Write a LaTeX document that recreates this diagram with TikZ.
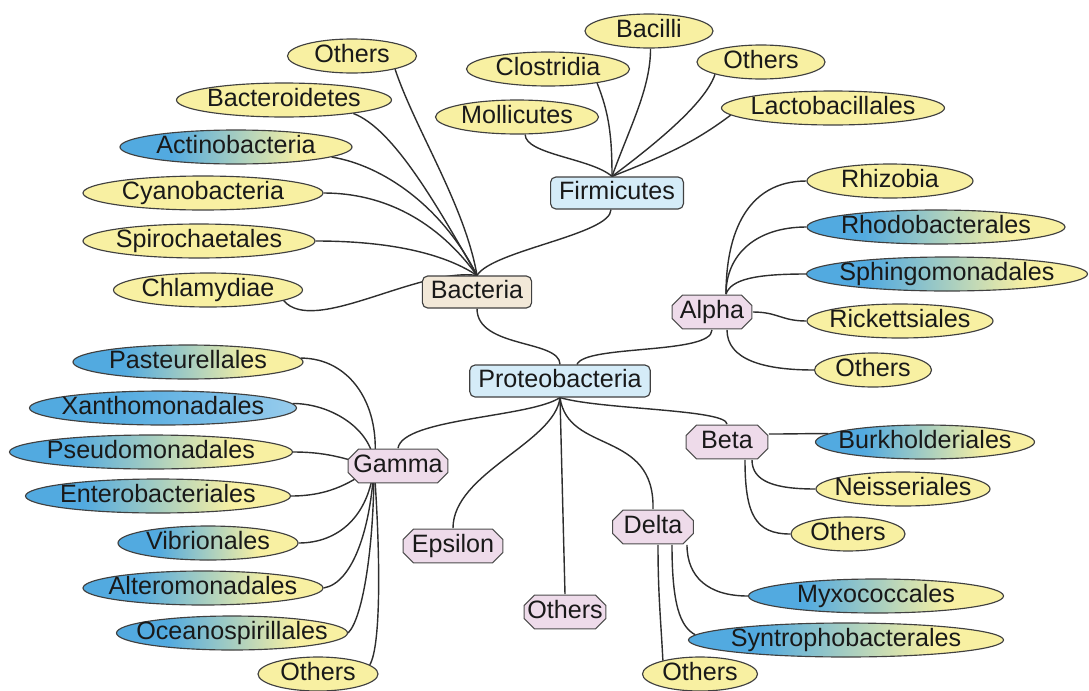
\documentclass[tikz,border=0pt]{standalone}
\usepackage{fontspec}
\setmainfont{Liberation Sans}
\usetikzlibrary{shapes.geometric,backgrounds}

\definecolor{leafyellow}{HTML}{F8F0A2}
\definecolor{leafblue}{HTML}{52AAE0}
\colorlet{leafpale}{leafblue!60!white}
\definecolor{boxtan}{HTML}{F2E8D8}
\definecolor{boxblue}{HTML}{D5ECF8}
\definecolor{octpink}{HTML}{EEDBEA}
\definecolor{inkline}{HTML}{2E2E2E}

\pgfdeclarehorizontalshading{leafshade}{100bp}{color(0bp)=(leafblue); color(36bp)=(leafblue); color(64bp)=(leafyellow); color(100bp)=(leafyellow)}
\pgfdeclarehorizontalshading{deepshade}{100bp}{color(0bp)=(leafblue); color(40bp)=(leafblue); color(75bp)=(leafpale); color(100bp)=(leafpale)}

\tikzset{
	txt/.style={font=\fontsize{14.3}{16}\selectfont, text=black!90, text height=0.72em, text depth=0pt},
	narrow/.style={execute at begin node={\hbox to 0pt\bgroup\hss}, execute at end node={\hss\egroup}},
	leaf/.style={txt, narrow, ellipse, draw=black!75, fill=leafyellow, line width=0.65pt, inner sep=0pt, minimum width=#1*0.02cm, minimum height=0.68cm},
	blueleaf/.style={leaf=#1, shade, shading=leafshade},
	deepleaf/.style={leaf=#1, shade, shading=deepshade},
	group/.style={txt, rectangle, rounded corners=3pt, draw=black!75, line width=0.65pt, inner xsep=0.17cm, inner ysep=0.1cm, minimum height=0.64cm},
	octo/.style={txt, narrow, rectangle, inner sep=0pt, minimum width=#1*0.02cm, minimum height=0.7cm,
		path picture={
			\draw[draw=black!70, fill=octpink, line width=0.65pt]
				([shift={(0.22cm,-0.33pt)}]path picture bounding box.north west) -- ([shift={(-0.22cm,-0.33pt)}]path picture bounding box.north east)
				-- ([shift={(-0.33pt,-0.22cm)}]path picture bounding box.north east) -- ([shift={(-0.33pt,0.22cm)}]path picture bounding box.south east)
				-- ([shift={(-0.22cm,0.33pt)}]path picture bounding box.south east) -- ([shift={(0.22cm,0.33pt)}]path picture bounding box.south west)
				-- ([shift={(0.33pt,0.22cm)}]path picture bounding box.south west) -- ([shift={(0.33pt,-0.22cm)}]path picture bounding box.north west)
				-- cycle;
		}},
	link/.style={draw=inkline, line width=0.8pt}
}

\begin{document}
\begin{tikzpicture}[x=0.02cm, y=-0.02cm]
	
	\useasboundingbox (0,0) rectangle (1089,690);
	
	% main groups
	\node[group, fill=boxtan] (bact) at (477,292) {Bacteria};
	\node[group, fill=boxblue] (firm) at (617,193) {Firmicutes};
	\node[group, fill=boxblue] (proteo) at (560,381) {Proteobacteria};
	
	\node[octo=81] (alpha) at (712,312) {Alpha};
	\node[octo=83] (beta) at (727,442) {Beta};
	\node[octo=101] (gamma) at (398,466) {Gamma};
	\node[octo=82] (delta) at (653,527) {Delta};
	\node[octo=101] (eps) at (453,546) {Epsilon};
	\node[octo=83] (othp) at (565,612) {Others};
	
	% bacteria
	\node[leaf=129] (othb) at (352,56) {Others};
	\node[leaf=215] (bactd) at (284,100) {Bacteroidetes};
	\node[blueleaf=232] (actino) at (236,147) {Actinobacteria};
	\node[leaf=240] (cyano) at (203,193) {Cyanobacteria};
	\node[leaf=232] (spiro) at (199,241) {Spirochaetales};
	\node[leaf=189] (chlamy) at (208,290) {Chlamydiae};
	
	% firmicutes
	\node[leaf=163] (molli) at (517,117) {Mollicutes};
	\node[leaf=163] (clostr) at (548,69) {Clostridia};
	\node[leaf=128] (bacilli) at (649,31) {Bacilli};
	\node[leaf=128] (othf) at (761,62) {Others};
	\node[leaf=223] (lacto) at (833,108) {Lactobacillales};
	
	% alpha
	\node[leaf=166] (rhizo) at (890,181) {Rhizobia};
	\node[blueleaf=258] (rhodo) at (936,227) {Rhodobacterales};
	\node[blueleaf=281] (sphingo) at (947,274) {Sphingomonadales};
	\node[leaf=186] (ricket) at (900,321) {Rickettsiales};
	\node[leaf=117] (otha) at (873,370) {Others};
	
	% beta
	\node[blueleaf=219] (burk) at (925,442) {Burkholderiales};
	\node[leaf=174] (neiss) at (903,489) {Neisseriales};
	\node[leaf=114] (othbe) at (848,534) {Others};
	
	% delta
	\node[blueleaf=255] (myxo) at (876,596) {Myxococcales};
	\node[blueleaf=315] (syntro) at (846,640) {Syntrophobacterales};
	\node[leaf=115] (othd) at (700,674) {Others};
	
	% gamma
	\node[blueleaf=230] (pasteur) at (188,362) {Pasteurellales};
	\node[deepleaf=267] (xantho) at (163,408) {Xanthomonadales};
	\node[blueleaf=283] (pseudo) at (151,452) {Pseudomonadales};
	\node[blueleaf=265] (entero) at (158,496) {Enterobacteriales};
	\node[blueleaf=180] (vibrio) at (208,543) {Vibrionales};
	\node[blueleaf=240] (altero) at (203,588) {Alteromonadales};
	\node[blueleaf=231] (oceano) at (232,633) {Oceanospirillales};
	\node[leaf=120] (othg) at (318,674) {Others};
	
	\coordinate (fhub) at ([xshift=-0.1cm]firm.north);
	\coordinate (ahub) at ([xshift=0.28cm]alpha.north);
	\coordinate (ghub) at ([xshift=-0.48cm]gamma.center);
	
	\begin{pgfonlayer}{background}
	\draw[link] (othb.-17) .. controls +(20,60) and +(-12,-70) .. (bact.north);
	\draw[link] (bactd.-11) .. controls +(40,15) and +(-40,-70) .. (bact.north);
	\draw[link] (actino.-6) .. controls +(50,8) and +(-35,-70) .. (bact.north);
	\draw[link] (cyano.east) .. controls +(60,0) and +(-40,-55) .. (bact.north);
	\draw[link] (spiro.east) .. controls +(80,0) and +(-30,-20) .. (bact.north);
	\draw[link] (chlamy.-8) .. controls +(30,35) and +(-60,-8) .. (bact.north);
	\draw[link] (bact.north) .. controls +(15,-25) and +(0,25) .. ([xshift=-0.12cm]firm.south);
	\draw[link] (bact.south) .. controls +(0,40) and +(0,-25) .. (proteo.north);
	
	\draw[link] (molli.-65) .. controls +(0,20) and +(-20,-18) .. (fhub);
	\draw[link] (clostr.-16) .. controls +(12,30) and +(0,-40) .. (fhub);
	\draw[link] (bacilli.-85) .. controls +(0,40) and +(18,-50) .. (fhub);
	\draw[link] (othf.-165) .. controls +(-10,30) and +(40,-30) .. (fhub);
	\draw[link] (lacto.-176) .. controls +(-40,30) and +(50,-20) .. (fhub);
	
	\draw[link] ([xshift=0.34cm]proteo.north) .. controls +(8,-20) and +(0,25) .. (alpha.south);
	\draw[link] (rhizo.west) .. controls +(-60,0) and +(0,-60) .. (ahub);
	\draw[link] (rhodo.west) .. controls +(-50,0) and +(0,-40) .. (ahub);
	\draw[link] (sphingo.west) .. controls +(-50,0) and +(5,-15) .. (ahub);
	\draw[link] (alpha.east) .. controls +(25,0) and +(-25,0) .. (ricket.west);
	\draw[link] ([xshift=0.3cm]alpha.south) .. controls +(0,30) and +(-50,0) .. (otha.west);
	
	\draw[link] (proteo.south) .. controls +(-30,20) and +(5,-30) .. (gamma.north);
	\draw[link] (proteo.south) .. controls +(-5,45) and +(0,-55) .. (eps.north);
	\draw[link] (proteo.south) -- (othp.north);
	\draw[link] (proteo.south) .. controls +(8,57) and +(2,-80) .. (delta.north);
	\draw[link] (proteo.south) .. controls +(40,12) and +(0,-15) .. (beta.north);
	
	\draw[link] ([yshift=0.16cm]beta.east) .. controls +(25,0) and +(-25,0) .. (burk.175);
	\draw[link] ([xshift=0.5cm]beta.south) .. controls +(0,22) and +(-40,0) .. (neiss.west);
	\draw[link] ([xshift=0.36cm]beta.south) .. controls +(0,55) and +(-35,0) .. (othbe.west);
	
	\draw[link] ([xshift=0.68cm]delta.south) .. controls +(0,32) and +(-40,0) .. (myxo.west);
	\draw[link] ([xshift=0.38cm]delta.south) .. controls +(0,60) and +(-15,-8) .. (syntro.178);
	\draw[link] ([xshift=0.1cm]delta.south) .. controls +(0,50) and +(-2,-40) .. (othd.160);
	
	\draw[link] (pasteur.2) .. controls +(50,0) and +(8,-60) .. (ghub);
	\draw[link] (xantho.2) .. controls +(40,0) and +(0,-35) .. (ghub);
	\draw[link] (pseudo.east) .. controls +(40,0) and +(-25,-5) .. (ghub);
	\draw[link] (entero.east) .. controls +(40,0) and +(-20,15) .. (ghub);
	\draw[link] (vibrio.east) .. controls +(40,0) and +(-5,50) .. (ghub);
	\draw[link] (altero.east) .. controls +(30,-5) and +(-3,60) .. (ghub);
	\draw[link] (oceano.east) .. controls +(15,-15) and +(0,80) .. (ghub);
	\draw[link] (othg.10) .. controls +(12,-20) and +(6,80) .. (ghub);
	\end{pgfonlayer}
	
\end{tikzpicture}
\end{document}
